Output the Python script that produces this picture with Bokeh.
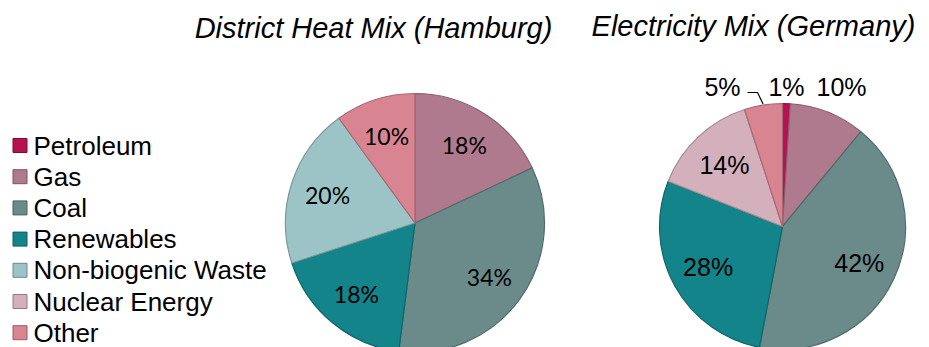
import math

from bokeh.core.properties import value
from bokeh.embed import file_html
from bokeh.models import ColumnDataSource, Range1d
from bokeh.plotting import figure
from bokeh.resources import INLINE

W, H = 929, 347

# Energy sources (legend order) and their colours
sources = ["Petroleum", "Gas", "Coal", "Renewables",
           "Non-biogenic Waste", "Nuclear Energy", "Other"]
colors = ["#B5124F", "#B07A8E", "#6A8B8A", "#13848A",
          "#9CC4C6", "#D3B0BB", "#D98591"]

# Shares in percent, same order as `sources` (0 = not part of the mix)
heat_shares = [0, 18, 34, 18, 20, 0, 10]      # District heat, Hamburg
power_shares = [1, 10, 42, 28, 0, 14, 5]      # Electricity, Germany

titles = ["District Heat Mix (Hamburg)", "Electricity Mix (Germany)"]


def darken(hex_color, f=0.78):
    h = hex_color.lstrip("#")
    r, g, b = (int(h[i:i + 2], 16) for i in (0, 2, 4))
    return "#{:02X}{:02X}{:02X}".format(int(r * f), int(g * f), int(b * f))


def Y(y_px):
    """Pixel row (from top) to data y (from bottom)."""
    return H - y_px


p = figure(width=W, height=H, x_range=Range1d(0, W), y_range=Range1d(0, H),
           output_backend="svg", toolbar_location=None, min_border=0)
p.axis.visible = False
p.grid.visible = False
p.outline_line_color = None
p.background_fill_color = "white"


def draw_pie(cx, cy, r, shares, label_font, label_size, label_factor,
             outside=None):
    outside = outside or {}
    total = float(sum(shares))
    cum = 0.0
    data = dict(start=[], end=[], fill=[], line=[])
    lab = dict(x=[], y=[], t=[])
    out_lab = dict(x=[], y=[], t=[])
    mids = {}
    for name, col, v in zip(sources, colors, shares):
        if v <= 0:
            continue
        c0, c1 = cum / total, (cum + v) / total
        cum += v
        a_start = math.pi / 2 - 2 * math.pi * c1
        a_end = math.pi / 2 - 2 * math.pi * c0
        data["start"].append(a_start)
        data["end"].append(a_end)
        data["fill"].append(col)
        data["line"].append(darken(col))
        mid = (a_start + a_end) / 2
        mids[name] = mid
        if name in outside:
            ox, oy = outside[name]
            out_lab["x"].append(ox)
            out_lab["y"].append(Y(oy))
            out_lab["t"].append(f"{v}%")
        else:
            lab["x"].append(cx + label_factor * r * math.cos(mid))
            lab["y"].append(Y(cy) + label_factor * r * math.sin(mid))
            lab["t"].append(f"{v}%")

    p.wedge(x=cx, y=Y(cy), radius=r, start_angle="start", end_angle="end",
            fill_color="fill", line_color="line", line_width=1.2,
            source=ColumnDataSource(data))
    p.text(x="x", y="y", text="t", source=ColumnDataSource(lab),
           text_font=value(label_font), text_font_size=f"{label_size}px",
           text_align="center", text_baseline="middle", text_color="#000000")
    if out_lab["t"]:
        p.text(x="x", y="y", text="t", source=ColumnDataSource(out_lab),
               text_font=value("Liberation Sans"),
               text_font_size=f"{label_size}px",
               text_align="center", text_baseline="middle",
               text_color="#000000")
    return mids


# District heat pie
draw_pie(414.5, 222.5, 129.5, heat_shares, "Lato", 23, 0.71)

# Electricity pie, with the small slices labelled above the pie
cx2, cy2, r2 = 782, 226, 123
mids2 = draw_pie(cx2, cy2, r2, power_shares, "Liberation Sans", 25, 0.69,
                 outside={"Gas": (841, 86), "Petroleum": (786, 86),
                          "Other": (722, 86)})

# Leader line from the "Other" label to its slice
a = mids2["Other"]
p.line(x=[747, 757, cx2 + (r2 + 1) * math.cos(a)],
       y=[Y(92), Y(92), Y(cy2) + (r2 + 1) * math.sin(a)],
       line_color="#000000", line_width=1.2)

# Titles
p.text(x=[373, 753], y=[Y(27), Y(25)], text=titles,
       text_font=value("Liberation Sans"), text_font_style="italic",
       text_font_size="29px", text_align="center",
       text_baseline="middle", text_color="#000000")

# Legend
row0, row_step = 145, 31.2
ly = [Y(row0 + i * row_step) for i in range(len(sources))]
p.rect(x=19.5, y=ly, width=14, height=14, fill_color=colors,
       line_color=[darken(c, 0.7) for c in colors], line_width=1)
p.text(x=33, y=ly, text=sources,
       text_font=value("Liberation Sans"), text_font_size="26px",
       text_align="left", text_baseline="middle", text_color="#000000")

open("out.html", "w").write(file_html(p, INLINE))
